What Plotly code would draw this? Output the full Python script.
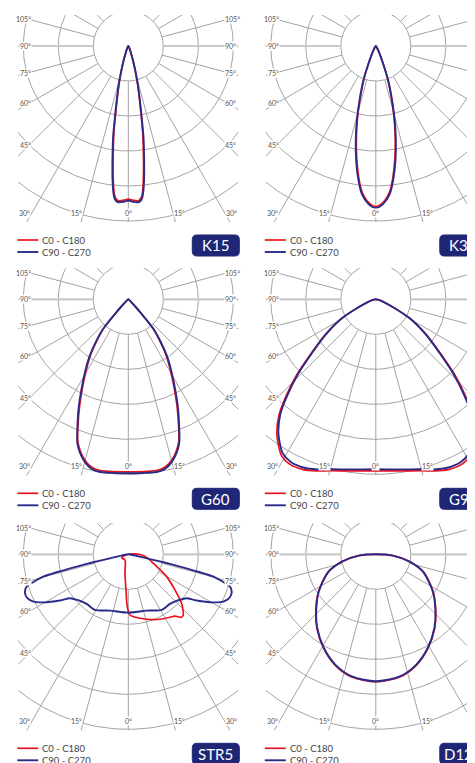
import numpy as np
import plotly.graph_objects as go

# page body has an 8px margin, so the figure is 8px smaller and everything shifted
W, H = 467, 755

# ---------------- data: angle from nadir (deg) and luminous intensity ----------------
K15_ANGLE = [0, 2, 3.5, 4.5, 5.3, 6, 6.7, 7.5, 8.5, 9.5, 10.6, 12, 14, 16, 18, 20, 24, 30, 45, 90]
K15_C0 = [153, 154.5, 155, 153.5, 149.5, 141, 130, 117, 101, 87, 69, 53, 37, 23.5, 14, 8.5, 3.8, 1.4, 0.5, 0]
K15_C90 = [154.5, 156, 156.5, 155.5, 152, 145, 135, 122, 106, 92, 73, 56, 39, 25, 15, 9, 4, 1.5, 0.5, 0]

K30_ANGLE = [0, 2.7, 5.4, 7.35, 9.76, 12, 14.3, 16.7, 19.8, 22.5, 26, 30, 40, 90]
K30_C0 = [160.5, 156.5, 146.5, 133, 113, 93.5, 74, 54.5, 35, 18.5, 8.5, 3.8, 1, 0]
K30_C90 = [162, 158, 148.5, 135.5, 116, 96.5, 76.5, 56.5, 36.5, 19.5, 9, 4, 1, 0]

G60_ANGLE = [0, 5, 9.3, 11, 12.5, 14, 15.5, 17, 18.5, 19.7, 21.5, 24.5, 27.6, 31, 34.4, 37.5, 40.4,
             42.6, 44, 47, 55, 90]
G60_C0 = [172.5, 173, 173.5, 173, 171.5, 169, 165.5, 161, 155.5, 150, 137.5, 117.5, 98.5, 81, 66,
          50.5, 37.5, 17, 9.5, 3.8, 1, 0]
G60_C90 = [174, 174.3, 175, 174.5, 173, 170.5, 167, 162.5, 157, 151.5, 139, 120, 101, 83.5, 68,
           52.5, 39, 18, 10, 4, 1, 0]

G90_ANGLE = [0, 8.5, 15, 19.1, 23, 27.6, 31.1, 35.9, 39.8, 42.9, 46.2, 49.7, 54.9, 60.8, 64.7, 70, 78, 90]
G90_C0 = [171.5, 173.5, 177.5, 181.5, 185, 186, 182.5, 168.5, 151.5, 131.5, 110, 86.5, 62.5, 39.5, 21.5, 10, 3, 0]
G90_C90 = [170, 172, 176, 180, 183, 183.5, 180, 166, 149, 129, 107.5, 84.5, 61, 38.5, 21, 9.5, 3, 0]

STR5_C0_ANGLE = [-90, -63, -30, -10, -3.7, -1.1, 1.6, 10.3, 19, 26, 33.5, 37.1, 40.2, 42.2, 44.5,
                 47.4, 52.6, 59.8, 70.2, 80, 87, 93.8, 100]
STR5_C0 = [0, 7.5, 6.6, 19.3, 35.7, 52.4, 60.7, 65, 69, 72.3, 75.5, 77.4, 82.5, 81.9, 78,
           72.4, 58.7, 44.4, 26.6, 19, 13.4, 5, 0]
STR5_C90_ANGLE = [0, 18, 31, 40, 46, 49.8, 53, 55.9, 60.5, 63.5, 66.5, 69.3, 71, 72.4, 74, 75.3,
                  76, 76.6, 77.2, 77.7, 80, 90]
STR5_C90 = [58.3, 59.2, 64.9, 64.8, 67, 69.8, 73, 82.5, 97.6, 106.1, 110, 110.4, 109, 106.7, 97, 88,
            72, 53, 36, 18.8, 6, 0]

D120_ANGLE = [0, 11.1, 20.2, 29.1, 38.6, 46.3, 56.9, 69.9, 77.8, 85.6, 90]
D120_C0 = [127.5, 125, 118, 107.5, 94.5, 83, 68.5, 50.5, 35, 17.5, 0]
D120_C90 = [127, 124.5, 117.5, 107, 94, 82.5, 68, 50, 34.5, 17, 0]

NAMES = ["K15", "K30", "G60", "G90", "STR5", "D120"]
SERIES_NAMES = ["C0 - C180", "C90 - C270"]
SIDE_TICKS = [45, 60, 75, 90, 105]
BOTTOM_TICKS = [30, 15, 0]


def mirror(ang, val):
    a = [-x for x in reversed(ang)] + list(ang[1:])
    v = list(reversed(val)) + list(val[1:])
    return a, v


def sym(ang, c0, c90):
    return [mirror(ang, c0), mirror(ang, c90)]


CURVES = [
    sym(K15_ANGLE, K15_C0, K15_C90),
    sym(K30_ANGLE, K30_C0, K30_C90),
    sym(G60_ANGLE, G60_C0, G60_C90),
    sym(G90_ANGLE, G90_C0, G90_C90),
    [(STR5_C0_ANGLE, STR5_C0), mirror(STR5_C90_ANGLE, STR5_C90)],
    sym(D120_ANGLE, D120_C0, D120_C90),
]

# ---------------- styling / layout ----------------
RED = "#e8151f"
BLUE = "#2c2a88"
NAVY = "#1f2676"
GRID = "#a3a3a3"
GRID90 = "#c9c9c9"
FONT = "Lato"

CX = [120.3, 367.8]
CY = [38.0, 291.3, 546.3]
HALF_W, TOP, BOTTOM = 110, 31, 176
RING = 35

fig = go.Figure()


def to_xy(ang, val):
    t = np.radians(np.asarray(ang, float))
    r = np.asarray(val, float)
    return r * np.sin(t), -r * np.cos(t)


annotations = []
shapes = []

for i, name in enumerate(NAMES):
    row, col = divmod(i, 2)
    cx, cy = CX[col], CY[row]
    ax = "" if i == 0 else str(i + 1)
    xa, ya = "x" + ax, "y" + ax
    xr = min(cx + HALF_W, W)
    fig.layout["xaxis" + ax] = dict(domain=[(cx - HALF_W) / W, xr / W], range=[-HALF_W, xr - cx],
                                    visible=False, fixedrange=True)
    fig.layout["yaxis" + ax] = dict(domain=[1 - (cy + BOTTOM) / H, 1 - (cy - TOP) / H],
                                    range=[-BOTTOM, TOP], visible=False, fixedrange=True)

    # grid circles
    th = np.linspace(0, 2 * np.pi, 361)
    gx, gy = [], []
    for k in range(1, 8):
        gx += list(k * RING * np.cos(th)) + [None]
        gy += list(k * RING * np.sin(th)) + [None]
    fig.add_trace(go.Scatter(x=gx, y=gy, mode="lines", line=dict(color=GRID, width=1),
                             hoverinfo="skip", showlegend=False, xaxis=xa, yaxis=ya))
    # rays
    rx, ry = [], []
    hx, hy = [], []
    for g in range(0, 360, 15):
        x, y = to_xy([g, g], [RING, 400])
        if g in (90, 270):
            hx += list(x) + [None]
            hy += list(y) + [None]
        else:
            rx += list(x) + [None]
            ry += list(y) + [None]
    fig.add_trace(go.Scatter(x=rx, y=ry, mode="lines", line=dict(color=GRID, width=1),
                             hoverinfo="skip", showlegend=False, xaxis=xa, yaxis=ya))
    fig.add_trace(go.Scatter(x=hx, y=hy, mode="lines", line=dict(color=GRID90, width=2.2),
                             hoverinfo="skip", showlegend=False, xaxis=xa, yaxis=ya))

    # curves
    (a0, v0), (a9, v9) = CURVES[i]
    for (a, v), colr, wd, nm in [((a0, v0), RED, 1.7, SERIES_NAMES[0]), ((a9, v9), BLUE, 1.9, SERIES_NAMES[1])]:
        x, y = to_xy(a, v)
        fig.add_trace(go.Scatter(x=x, y=y, mode="lines", name=nm,
                                 line=dict(color=colr, width=wd, shape="spline", smoothing=0.8),
                                 showlegend=False, xaxis=xa, yaxis=ya))

    # angle labels
    lab_font = dict(family=FONT, size=7, color="#555555")
    for g in SIDE_TICKS:
        yv = -99 / np.tan(np.radians(g)) if g != 90 else 0.0
        for side in (-1, 1):
            annotations.append(dict(x=-96 if side < 0 else 95.5, y=yv, xref=xa, yref=ya,
                                    text=f"{g}°", showarrow=False, font=lab_font,
                                    xanchor="right" if side < 0 else "left", yanchor="middle",
                                    bgcolor="white", borderpad=0))
    for g in BOTTOM_TICKS:
        xe = 168 * np.tan(np.radians(g))
        sides = (-1, 1) if g else (0,)
        for side in sides:
            anc = "center" if side == 0 else ("right" if side < 0 else "left")
            annotations.append(dict(x=side * xe, y=-167, xref=xa, yref=ya, text=f"{g}°",
                                    showarrow=False, font=lab_font, xanchor=anc, yanchor="middle",
                                    bgcolor="white", borderpad=0))

    # legend
    for k, (colr, wd) in enumerate([(RED, 1.7), (BLUE, 1.9)]):
        ly = cy + 194 + 12 * k
        shapes.append(dict(type="line", xref="paper", yref="paper",
                           x0=(cx - 111) / W, x1=(cx - 90) / W, y0=1 - ly / H, y1=1 - ly / H,
                           line=dict(color=colr, width=wd)))
        annotations.append(dict(x=(cx - 88) / W, y=1 - ly / H, xref="paper", yref="paper",
                                text=SERIES_NAMES[k], showarrow=False, xanchor="left", yanchor="middle",
                                font=dict(family=FONT, size=9.5, color="#444444")))

    # badge
    bx0, bx1 = cx + 64, cx + 111
    by0, by1 = cy + 189, cy + 210
    rad = 4.5

    def P(x, y):
        return f"{x / W:.5f},{1 - y / H:.5f}"
    path = (f"M{P(bx0 + rad, by0)} L{P(bx1 - rad, by0)} Q{P(bx1, by0)} {P(bx1, by0 + rad)} "
            f"L{P(bx1, by1 - rad)} Q{P(bx1, by1)} {P(bx1 - rad, by1)} "
            f"L{P(bx0 + rad, by1)} Q{P(bx0, by1)} {P(bx0, by1 - rad)} "
            f"L{P(bx0, by0 + rad)} Q{P(bx0, by0)} {P(bx0 + rad, by0)} Z")
    shapes.append(dict(type="path", xref="paper", yref="paper", path=path,
                       fillcolor=NAVY, line=dict(color=NAVY, width=1)))
    annotations.append(dict(x=(bx0 + bx1) / 2 / W, y=1 - (by0 + by1) / 2 / H, xref="paper", yref="paper",
                            text=name, showarrow=False, xanchor="center", yanchor="middle",
                            font=dict(family=FONT, size=15, color="white")))

fig.update_layout(width=W, height=H, margin=dict(l=0, r=0, t=0, b=0),
                  paper_bgcolor="white", plot_bgcolor="white",
                  annotations=annotations, shapes=shapes, showlegend=False)
fig.write_html("out.html")
